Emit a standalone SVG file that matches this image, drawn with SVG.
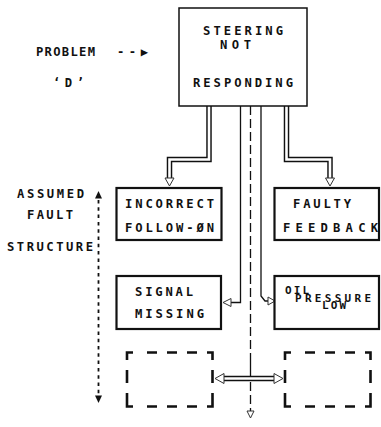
<svg xmlns="http://www.w3.org/2000/svg" width="381" height="427" viewBox="0 0 381 427">
<style>
text{font-family:"DejaVu Sans Mono","Liberation Mono",monospace;font-weight:bold;font-size:12.2px;fill:#111}
.sm{font-size:11px}
.box{fill:#fff;stroke:#111;stroke-width:2.2}
.top{fill:#fff;stroke:#111;stroke-width:1.5}
.dbox{fill:none;stroke:#111;stroke-width:2.6}
.pipeo{fill:none;stroke:#111;stroke-width:5.5}
.pipei{fill:none;stroke:#fff;stroke-width:2.6}
.ln{fill:none;stroke:#111;stroke-width:1.3}
.dash{fill:none;stroke:#111;stroke-width:1.3;stroke-dasharray:9 4}
.head{fill:#fff;stroke:#333;stroke-width:1}
.fhead{fill:#111;stroke:none}
</style>
<rect width="381" height="427" fill="#fff"/>

<g id="labels">
<text x="36" y="56"><tspan textLength="59" lengthAdjust="spacing">PROBLEM</tspan><tspan x="117" textLength="31" lengthAdjust="spacing">--▶</tspan></text>
<text x="53" y="87" textLength="31" lengthAdjust="spacing">‘D’</text>
<text x="17" y="198" textLength="67" lengthAdjust="spacing">ASSUMED</text>
<text x="27" y="219" textLength="46" lengthAdjust="spacing">FAULT</text>
<text x="7" y="251" textLength="86" lengthAdjust="spacing">STRUCTURE</text>
</g>

<g id="connectors">
<path class="pipeo" d="M209,106 V159.5 H169.5 V178"/>
<path class="pipei" d="M209,105 V159.5 H169.5 V179"/>
<polygon class="head" points="165,178 174,178 169.5,186"/>
<path class="pipeo" d="M286.5,106 V159.5 H330 V178"/>
<path class="pipei" d="M286.5,105 V159.5 H330 V179"/>
<polygon class="head" points="325.5,178 334.5,178 330,186"/>
<path class="ln" d="M240.5,106 V302.5 H231"/>
<polygon class="head" points="231,298.5 231,306.5 223,302.5"/>
<path class="ln" d="M261,106 V296 L265,301 H268"/>
<polygon class="head" points="268,297 268,305 275,301"/>
<path class="dash" d="M250.5,106 V362"/>
<path class="ln" d="M250.5,362 V378"/>
<path class="dash" d="M250.5,382 V411"/>
<polygon class="head" points="247,411 254,411 250.5,418"/>
<path class="pipeo" d="M223,378.5 H275"/>
<path class="pipei" d="M222,378.5 H276"/>
<polygon class="head" points="224,373.5 224,383.5 215,378.5"/>
<polygon class="head" points="274,373.5 274,383.5 283,378.5"/>
<path fill="none" stroke="#111" stroke-width="1.8" stroke-dasharray="3.5 3.8" d="M98.5,200 V396"/>
<polygon class="fhead" points="98.5,191 95,198.5 102,198.5"/>
<polygon class="fhead" points="98.5,403 95,395.5 102,395.5"/>
</g>

<g id="node-steering">
<rect class="top" x="179" y="8" width="128" height="98"/>
<text x="203" y="35" textLength="80" lengthAdjust="spacing">STEERING</text>
<text x="220" y="48.5" textLength="31" lengthAdjust="spacing">NOT</text>
<text x="193" y="87" textLength="100" lengthAdjust="spacing">RESPONDING</text>
</g>

<g id="node-incorrect">
<rect class="box" x="116.5" y="188" width="105" height="52"/>
<text x="125" y="208" textLength="89" lengthAdjust="spacing">INCORRECT</text>
<text x="125" y="232" textLength="89" lengthAdjust="spacing">FOLLOW-ØN</text>
</g>

<g id="node-faulty">
<rect class="box" x="274.5" y="188" width="104.5" height="52"/>
<text x="293" y="208" textLength="58" lengthAdjust="spacing">FAULTY</text>
<text x="283" y="232" textLength="95" lengthAdjust="spacing">FEEDBACK</text>
</g>

<g id="node-signal">
<rect class="box" x="116.5" y="276" width="104.5" height="53"/>
<text x="135" y="296" textLength="58" lengthAdjust="spacing">SIGNAL</text>
<text x="135" y="318" textLength="69" lengthAdjust="spacing">MISSING</text>
</g>

<g id="node-oil">
<rect class="box" x="274.5" y="276" width="104.5" height="53"/>
<text class="sm" x="285" y="294" textLength="24" lengthAdjust="spacing">OIL</text>
<text class="sm" x="295" y="302" textLength="76" lengthAdjust="spacing">PRESSURE</text>
<text class="sm" x="322" y="309" textLength="24" lengthAdjust="spacing">LOW</text>
</g>

<g id="node-blank-left">
<path class="dbox" d="M127,360 V352.5 H133 M147,352.5 H157 M167,352.5 H177 M187,352.5 H197 M207,352.5 H212.5 V360 M212.5,370 V383 M212.5,393 V406.5 H207 M197,406.5 H187 M177,406.5 H167 M157,406.5 H147 M133,406.5 H127 V393 M127,370 V383"/>
</g>

<g id="node-blank-right">
<path class="dbox" transform="translate(158,0)" d="M127,360 V352.5 H133 M147,352.5 H157 M167,352.5 H177 M187,352.5 H197 M207,352.5 H212.5 V360 M212.5,370 V383 M212.5,393 V406.5 H207 M197,406.5 H187 M177,406.5 H167 M157,406.5 H147 M133,406.5 H127 V393 M127,370 V383"/>
</g>
</svg>
